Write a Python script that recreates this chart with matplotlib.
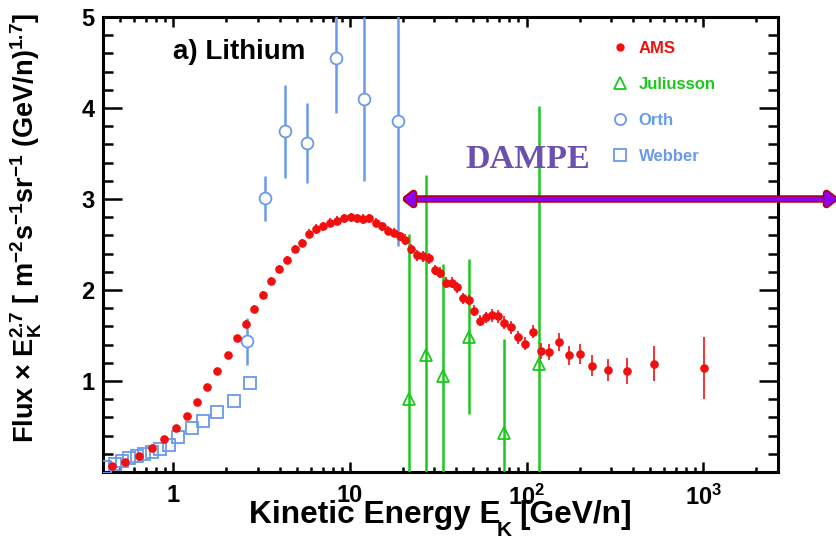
"""Lithium flux x E^2.7 vs kinetic energy: AMS, Juliusson, Orth, Webber, with the DAMPE range."""

import matplotlib
matplotlib.use("Agg")
import matplotlib.pyplot as plt
import matplotlib.patheffects as pe
from matplotlib.lines import Line2D
from matplotlib.ticker import FixedLocator, LogLocator, MultipleLocator, NullFormatter

plt.rcParams["font.family"] = ["Liberation Sans", "DejaVu Sans"]
plt.rcParams["font.weight"] = "bold"
plt.rcParams["mathtext.fontset"] = "custom"
plt.rcParams["mathtext.rm"] = "Liberation Sans"
plt.rcParams["mathtext.bf"] = "Liberation Sans:bold"
plt.rcParams["mathtext.default"] = "bf"

# AMS
ams_e = [0.451, 0.536, 0.643, 0.758, 0.889, 1.035, 1.19, 1.37, 1.56, 1.78, 2.03, 2.29,
         2.57, 2.88, 3.22, 3.59, 3.99, 4.42, 4.89, 5.38, 5.89, 6.45, 7.07, 7.74, 8.45,
         9.25, 10.1, 10.96, 11.9, 12.9, 14.0, 15.2, 16.4, 17.7, 19.2, 20.6, 22.3, 24.1,
         25.9, 27.9, 30.2, 32.5, 35.0, 37.6, 40.4, 43.6, 47.0, 50.6, 54.5, 58.7, 63.4,
         68.6, 74.8, 82.0, 89.8, 98.4, 108.6, 120, 134, 152, 173, 200, 235, 288, 372,
         524, 1013]
ams_f = [0.066, 0.106, 0.18, 0.26, 0.36, 0.48, 0.62, 0.77, 0.93, 1.11, 1.29, 1.47,
         1.63, 1.79, 1.95, 2.10, 2.23, 2.33, 2.45, 2.52, 2.62, 2.67, 2.70, 2.74, 2.76,
         2.79, 2.80, 2.79, 2.78, 2.79, 2.74, 2.70, 2.65, 2.63, 2.59, 2.55, 2.45, 2.38,
         2.37, 2.35, 2.22, 2.19, 2.08, 2.08, 2.03, 1.91, 1.89, 1.77, 1.66, 1.70, 1.72,
         1.71, 1.64, 1.59, 1.48, 1.41, 1.54, 1.33, 1.32, 1.43, 1.28, 1.30, 1.17, 1.12,
         1.11, 1.19, 1.14]
ams_err = [0.01, 0.01, 0.01, 0.015, 0.015, 0.02, 0.02, 0.02, 0.025, 0.025, 0.03, 0.03,
           0.04, 0.04, 0.04, 0.04, 0.04, 0.04, 0.04, 0.04,
           0.05, 0.05, 0.05, 0.05, 0.05, 0.05, 0.05, 0.05, 0.05, 0.05, 0.05, 0.05, 0.05,
           0.05, 0.05,
           0.06, 0.06, 0.06, 0.06, 0.06, 0.06, 0.06, 0.06, 0.06, 0.06, 0.06, 0.06, 0.06,
           0.06, 0.06,
           0.07, 0.07, 0.07, 0.07, 0.07, 0.07, 0.07,
           0.09, 0.09, 0.10, 0.10, 0.11, 0.12, 0.12, 0.14, 0.19, 0.34]

# Juliusson
jul_e = [21.5, 26.9, 33.5, 47.0, 74.1, 117]
jul_f = [0.80, 1.29, 1.05, 1.48, 0.43, 1.19]
jul_lo = [0.80, 1.29, 1.05, 0.84, 0.43, 1.19]
jul_hi = [1.82, 1.97, 1.24, 0.86, 1.03, 2.83]

# Orth
orth_e = [2.62, 3.31, 4.29, 5.71, 8.33, 12.0, 18.7]
orth_f = [1.44, 3.01, 3.75, 3.62, 4.55, 4.10, 3.86]
orth_lo = [0.26, 0.25, 0.52, 0.44, 0.61, 0.90, 1.38]
orth_hi = [0.25, 0.24, 0.50, 0.44, 0.61, 0.90, 1.38]

# Webber
web_e = [0.413, 0.465, 0.515, 0.565, 0.62, 0.68, 0.76, 0.845, 0.945, 1.07, 1.27, 1.48,
         1.76, 2.21, 2.71]
web_f = [0.06, 0.09, 0.12, 0.15, 0.17, 0.20, 0.22, 0.25, 0.30, 0.38, 0.48, 0.56,
         0.66, 0.78, 0.98]

dampe_emin = 20.0
dampe_level = 3.0

RED = "#F01010"
GREEN = "#1DC81D"
BLUE = "#6A9AEA"

fig = plt.figure(figsize=(8.37, 5.40), dpi=100)
ax = fig.add_axes([0.123, 0.126, 0.8065, 0.8425])

ax.errorbar(web_e, web_f, fmt="s", ms=8.5, mfc="none", mec=BLUE, mew=1.3, zorder=3)
ax.errorbar(jul_e, jul_f, yerr=[jul_lo, jul_hi], fmt="^", ms=9, mfc="none", mec=GREEN,
            mew=1.3, ecolor=GREEN, elinewidth=1.8, capsize=0, zorder=3)
ax.errorbar(orth_e, orth_f, yerr=[orth_lo, orth_hi], fmt="o", ms=8.5, mfc="white",
            mec=BLUE, mew=1.3, ecolor=BLUE, elinewidth=1.8, capsize=0, zorder=3)
ax.errorbar(ams_e, ams_f, yerr=ams_err, fmt="o", ms=5.2, color=RED, mec=RED,
            ecolor=RED, elinewidth=1.2, capsize=0, zorder=4)

ax.set_xscale("log")
ax.set_xlim(0.4, 2650)
ax.set_ylim(0, 5)

ax.xaxis.set_major_locator(FixedLocator([1, 10, 100, 1000]))
ax.set_xticklabels(["1", "10", r"$10^{2}$", r"$10^{3}$"])
ax.xaxis.set_minor_locator(LogLocator(base=10, subs=range(2, 10), numticks=20))
ax.xaxis.set_minor_formatter(NullFormatter())
ax.yaxis.set_major_locator(FixedLocator([1, 2, 3, 4, 5]))
ax.yaxis.set_minor_locator(MultipleLocator(0.2))

for s in ax.spines.values():
    s.set_linewidth(2.2)
ax.tick_params(axis="both", which="both", direction="in", top=True, right=True, width=1.8)
ax.tick_params(axis="x", which="major", length=7, labelsize=17, pad=9)
ax.tick_params(axis="x", which="minor", length=3.5)
ax.tick_params(axis="y", which="major", length=14, labelsize=17, pad=6)
ax.tick_params(axis="y", which="minor", length=7)

# x title in three pieces so the K subscript can sit low, as in the original
fig.text(501 / 837, 1 - 523 / 540, "Kinetic Energy E", fontsize=22.8, fontweight="bold",
         ha="right", va="baseline")
fig.text(504 / 837, 1 - 536 / 540, "K", fontsize=15, fontweight="bold",
         ha="center", va="baseline")
fig.text(519 / 837, 1 - 523 / 540, "[GeV/n]", fontsize=22.8, fontweight="bold",
         ha="left", va="baseline")

ax.set_ylabel(r"Flux $\times$ E$_{K}^{2.7}$ [ m$^{-2}$s$^{-1}$sr$^{-1}$ (GeV/n)$^{1.7}$]",
              fontsize=19.5, fontweight="bold")
ax.yaxis.set_label_coords(-0.088, 0.536)

ax.text(0.104, 0.923, "a) Lithium", transform=ax.transAxes, fontsize=20,
        fontweight="bold", ha="left", va="center")

# DAMPE energy range arrow (runs off the right edge of the figure)
arr = ax.annotate("", xy=(1.0, dampe_level), xycoords=("figure fraction", "data"),
                  xytext=(dampe_emin, dampe_level), textcoords="data",
                  arrowprops=dict(arrowstyle="<|-|>,head_length=0.25,head_width=0.2",
                                  mutation_scale=20, fc="#8E00F0", ec="#8E00F0",
                                  lw=3.2, shrinkA=0, shrinkB=0))
arr.arrow_patch.set_path_effects([pe.Stroke(linewidth=5.4, foreground="#B00000"),
                                  pe.Normal()])
ax.text(0.63, 0.686, "DAMPE", transform=ax.transAxes, fontsize=24.5,
        family="Liberation Serif", fontweight="bold", color="#6A50B0",
        ha="center", va="center")

handles = [
    Line2D([], [], ls="none", marker="o", ms=5, color=RED),
    Line2D([], [], ls="none", marker="^", ms=9, mfc="none", mec=GREEN, mew=1.3),
    Line2D([], [], ls="none", marker="o", ms=8, mfc="none", mec=BLUE, mew=1.3),
    Line2D([], [], ls="none", marker="s", ms=8, mfc="none", mec=BLUE, mew=1.3),
]
leg = ax.legend(handles, ["AMS", "Juliusson", "Orth", "Webber"], loc="upper left",
                bbox_to_anchor=(0.742, 0.965), frameon=False, borderpad=0,
                handlelength=1.0, handletextpad=0.6, labelspacing=1.25,
                prop={"size": 12, "weight": "bold"},
                labelcolor=[RED, GREEN, BLUE, BLUE])

fig.savefig("out.png", dpi=100)
